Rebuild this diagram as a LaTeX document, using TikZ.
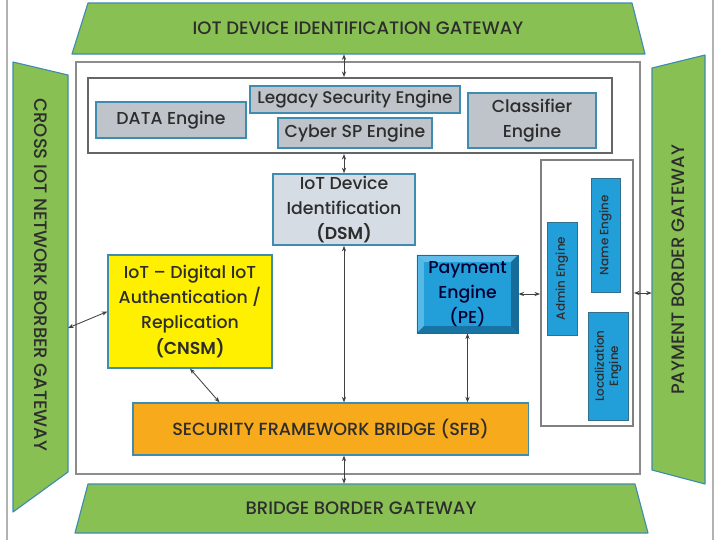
\documentclass[tikz,border=0pt]{standalone}
\usepackage{fontspec}
\setmainfont{Poppins}[UprightFont=* Medium, BoldFont=* SemiBold]
\usetikzlibrary{arrows.meta,calc}

\definecolor{gwgreen}{RGB}{137,192,84}
\definecolor{gwedge}{RGB}{62,140,175}
\definecolor{enggray}{RGB}{190,196,202}
\definecolor{dsmgray}{RGB}{214,220,228}
\definecolor{engblue}{RGB}{34,158,216}
\definecolor{pedark}{RGB}{22,108,155}
\definecolor{pelight}{RGB}{95,188,232}
\definecolor{cnsmyellow}{RGB}{255,240,0}
\definecolor{sfborange}{RGB}{247,170,28}
\definecolor{txt}{RGB}{45,45,45}

\begin{document}
\begin{tikzpicture}[x=0.025cm, y=-0.025cm,
	every node/.style={text=txt, font=\fontsize{12.3}{17.8}\selectfont, align=center},
	gate/.style={draw=gwedge, fill=gwgreen, line width=0.8pt, line join=round},
	gatetext/.style={inner sep=0pt, font=\fontsize{12.8}{14}\selectfont},
	engine/.style={draw=gwedge, fill=enggray, line width=1.1pt, inner sep=0pt},
	small/.style={draw=gwedge!80!black, fill=engblue, line width=0.6pt, inner sep=0pt, rotate=90, font=\fontsize{8.5}{10}\selectfont},
	frame/.style={draw=black!60, line width=1.4pt, inner sep=0pt},
	bevel/.style={fill=engblue, draw=pedark, line width=0.6pt, inner sep=0pt, text=black!80!blue,
		path picture={
			\fill[pelight] (path picture bounding box.north west) -- (path picture bounding box.north east) -- ($(path picture bounding box.north east)+(-7,7)$) -- ($(path picture bounding box.north west)+(7,7)$) -- cycle;
			\fill[pelight!85!engblue] (path picture bounding box.north west) -- ($(path picture bounding box.north west)+(7,7)$) -- ($(path picture bounding box.south west)+(7,-7)$) -- (path picture bounding box.south west) -- cycle;
			\fill[pedark] (path picture bounding box.north east) -- (path picture bounding box.south east) -- ($(path picture bounding box.south east)+(-7,-7)$) -- ($(path picture bounding box.north east)+(-7,7)$) -- cycle;
			\fill[pedark!85!engblue] (path picture bounding box.south west) -- (path picture bounding box.south east) -- ($(path picture bounding box.south east)+(-7,-7)$) -- ($(path picture bounding box.south west)+(7,-7)$) -- cycle;
		}},
	link/.style={{Stealth[length=4pt,width=3pt]}-{Stealth[length=4pt,width=3pt]}, draw=black!75, line width=0.6pt}]

	\useasboundingbox (0,0) rectangle (720,540);

	% page edges
	\draw[gray!60, line width=1pt] (7,0) -- (7,540);
	\draw[gray!60, line width=1pt] (713,0) -- (713,540);

	% draw gateways
	\draw[gate] (88,3) -- (632,3) -- (645,54) -- (72,54) -- cycle;
	\draw[gate] (88,484) -- (635,484) -- (648,533) -- (75,533) -- cycle;
	\draw[gate] (13,62) -- (68,75) -- (68,472) -- (13,512) -- cycle;
	\draw[gate] (652,68) -- (705,55) -- (705,484) -- (652,470) -- cycle;

	\node[gatetext, minimum height=1.275cm] (gwtop) at (358,28.5) {IOT DEVICE IDENTIFICATION GATEWAY};
	\node[gatetext, minimum height=1.225cm] (gwbot) at (361,508.5) {BRIDGE BORDER GATEWAY};
	\node[gatetext, rotate=-90, minimum height=1.375cm] (gwleft) at (40.5,275) {CROSS IOT NETWORK BORBER GATEWAY};
	\node[gatetext, rotate=90, minimum height=1.325cm] (gwright) at (678.5,270) {PAYMENT BORDER GATEWAY};
	\coordinate (leftport) at (68,328);

	% draw frames
	\node[frame, draw=black!45, line width=1.8pt, minimum width=14.1cm, minimum height=10.3cm] (mainframe) at (358,268) {};
	\node[frame, minimum width=13.1cm, minimum height=1.875cm] (engines) at (350,115.5) {};
	\node[frame, draw=black!50, minimum width=2.3cm, minimum height=6.65cm] (rframe) at (587,293) {};

	% draw engines
	\node[engine, minimum width=3.75cm, minimum height=0.9cm] (data) at (171,120) {DATA Engine};
	\node[engine, minimum width=5.25cm, minimum height=0.675cm, font=\fontsize{12}{14}\selectfont] (legacy) at (355,99.5) {Legacy Security Engine};
	\node[engine, minimum width=3.85cm, minimum height=0.75cm] (cyber) at (355,133) {Cyber SP Engine};
	\node[engine, minimum width=3.2cm, minimum height=1.375cm] (classifier) at (532,120.5) {Classifier\\Engine};

	\node[engine, fill=dsmgray, minimum width=3.55cm, minimum height=1.775cm] (dsm) at (344,209.5) {IoT Device\\Identification\\\textbf{(DSM)}};
	\node[engine, fill=cnsmyellow, line width=0.8pt, minimum width=4.1cm, minimum height=2.825cm] (cnsm) at (190,311.5) {IoT – Digital IoT\\Authentication /\\Replication\\\textbf{(CNSM)}};
	\node[bevel, minimum width=2.525cm, minimum height=1.95cm] (pe) at (467.5,294) {Payment\\Engine\\(PE)};
	\node[engine, fill=sfborange, line width=0.8pt, minimum width=9.875cm, minimum height=1.3cm, font=\fontsize{12.5}{15}\selectfont] (sfb) at (330.5,429) {SECURITY FRAMEWORK BRIDGE (SFB)};

	\node[small, minimum width=2.825cm, minimum height=0.75cm] (admin) at (562,278.5) {Admin Engine};
	\node[small, minimum width=2.85cm, minimum height=0.725cm] (name) at (605.5,235) {Name Engine};
	\node[small, minimum width=2.7cm, minimum height=1cm] (local) at (608,366) {Localization\\Engine};

	% draw links
	\draw[link] (engines.north -| dsm.north) -- (gwtop.south -| dsm.north);
	\draw[link] (engines.south -| dsm.north) -- (dsm.north);
	\draw[link] (dsm.south) -- (dsm.south |- sfb.north);
	\draw[link] (dsm.south |- sfb.south) -- (dsm.south |- gwbot.north);
	\draw[link] (cnsm.west) -- (leftport);
	\draw[link] (cnsm.south) -- ($(sfb.north west)!0.22!(sfb.north east)$);
	\draw[link] (pe.south) -- (pe.south |- sfb.north);
	\draw[link] (pe.east) -- (pe.east -| rframe.west);
	\draw[link] (rframe.east) -- (rframe.east -| gwright.north);

\end{tikzpicture}
\end{document}
